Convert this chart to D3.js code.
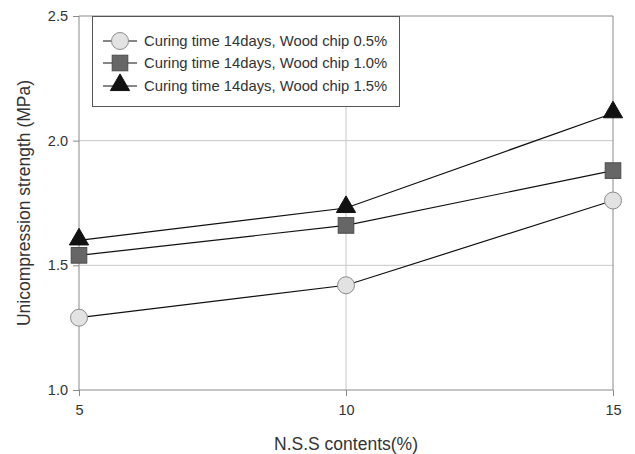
<!DOCTYPE html>
<html>
<head>
<meta charset="utf-8">
<script src="https://cdn.jsdelivr.net/npm/d3@7"></script>
<style>
  html, body { margin: 0; padding: 0; background: #fff; }
  svg { display: block; font-family: Arial, "Liberation Sans", sans-serif; }
</style>
</head>
<body>
<svg id="chart" width="635" height="454"></svg>
<script>
// N.S.S content (%) on the x axis
const contents = [5, 10, 15];
// Unconfined compression strength (MPa) for each wood chip ratio
const chip05 = [1.29, 1.42, 1.76];
const chip10 = [1.54, 1.66, 1.88];
const chip15 = [1.60, 1.73, 2.11];
const seriesNames = [
  "Curing time 14days, Wood chip 0.5%",
  "Curing time 14days, Wood chip 1.0%",
  "Curing time 14days, Wood chip 1.5%"
];
const yTicks = [1.0, 1.5, 2.0, 2.5];
const xTicks = [5, 10, 15];

const svg = d3.select("#chart");
const margin = { left: 79, right: 22, top: 16, bottom: 64 };
const W = 635, H = 454;
const x = d3.scaleLinear().domain([5, 15]).range([margin.left, W - margin.right]);
const y = d3.scaleLinear().domain([1.0, 2.5]).range([H - margin.bottom, margin.top]);

const axisColor = "#8a8a8a";
const gridColor = "#c8c8c8";
const textColor = "#333";

// grid lines
svg.append("g").selectAll("line.hg").data(yTicks.slice(1, -1)).join("line")
  .attr("x1", x(5)).attr("x2", x(15))
  .attr("y1", d => y(d)).attr("y2", d => y(d))
  .attr("stroke", gridColor).attr("stroke-width", 1);
svg.append("g").selectAll("line.vg").data(xTicks.slice(1, -1)).join("line")
  .attr("x1", d => x(d)).attr("x2", d => x(d))
  .attr("y1", y(1.0)).attr("y2", y(2.5))
  .attr("stroke", gridColor).attr("stroke-width", 1);

// frame top and right
svg.append("line").attr("x1", x(5)).attr("x2", x(15)).attr("y1", y(2.5)).attr("y2", y(2.5))
  .attr("stroke", axisColor);
svg.append("line").attr("x1", x(15)).attr("x2", x(15)).attr("y1", y(2.5)).attr("y2", y(1.0))
  .attr("stroke", axisColor);

// axes
const yAxis = d3.axisLeft(y).tickValues(yTicks).tickFormat(d3.format(".1f")).tickSize(6).tickPadding(5);
const xAxis = d3.axisBottom(x).tickValues(xTicks).tickFormat(d3.format("d")).tickSize(6).tickPadding(9);
const gy = svg.append("g").attr("transform", `translate(${x(5)},0)`).call(yAxis);
const gx = svg.append("g").attr("transform", `translate(0,${y(1.0)})`).call(xAxis);
[gx, gy].forEach(g => {
  g.select(".domain").attr("stroke", axisColor).attr("d", g === gx
    ? `M${x(5)},0H${x(15)}` : `M0,${y(1.0)}V${y(2.5)}`);
  g.selectAll(".tick line").attr("stroke", axisColor);
  g.selectAll(".tick text").attr("fill", textColor).attr("font-size", 14.5)
    .attr("font-family", "Arial, 'Liberation Sans', sans-serif");
});

// axis titles
svg.append("text").attr("x", (x(5) + x(15)) / 2).attr("y", 450)
  .attr("text-anchor", "middle").attr("font-size", 17.5).attr("fill", textColor)
  .text("N.S.S contents(%)");
svg.append("text").attr("transform", `translate(30,${(y(1.0) + y(2.5)) / 2}) rotate(-90)`)
  .attr("text-anchor", "middle").attr("font-size", 17.5).attr("fill", textColor)
  .text("Unicompression strength (MPa)");

// marker drawing
const markers = [
  (g) => g.append("circle").attr("r", 8.5).attr("fill", "#e2e2e2").attr("stroke", "#8c8c8c").attr("stroke-width", 1),
  (g) => g.append("rect").attr("x", -7.8).attr("y", -7.8).attr("width", 15.6).attr("height", 15.6)
          .attr("fill", "#666").attr("stroke", "#4a4a4a").attr("stroke-width", 1),
  (g) => g.append("path").attr("d", d3.symbol().type(d3.symbolTriangle).size(160)())
          .attr("transform", "translate(0,-1)").attr("fill", "#111").attr("stroke", "#111")
];

const allSeries = [chip05, chip10, chip15];
const line = d3.line().x((d, i) => x(contents[i])).y(d => y(d));

allSeries.forEach((vals, si) => {
  const g = svg.append("g");
  g.append("path").attr("d", line(vals)).attr("fill", "none").attr("stroke", "#111").attr("stroke-width", 1.2);
  vals.forEach((v, i) => {
    const m = g.append("g").attr("transform", `translate(${x(contents[i])},${y(v)})`);
    markers[si](m);
  });
});

// legend
const legend = svg.append("g");
legend.append("rect").attr("x", 92.5).attr("y", 16.5).attr("width", 307).attr("height", 90)
  .attr("fill", "#fff").attr("stroke", "#555").attr("stroke-width", 1);
const legendY = [41, 63, 86];
seriesNames.forEach((name, si) => {
  const gy0 = legendY[si];
  legend.append("line").attr("x1", 103).attr("x2", 137).attr("y1", gy0).attr("y2", gy0)
    .attr("stroke", "#111").attr("stroke-width", 1.2);
  const m = legend.append("g").attr("transform", `translate(120,${gy0})`);
  markers[si](m);
  legend.append("text").attr("x", 144).attr("y", gy0).attr("dy", "0.35em")
    .attr("font-size", 14.8).attr("fill", textColor).text(name);
});
</script>
</body>
</html>
